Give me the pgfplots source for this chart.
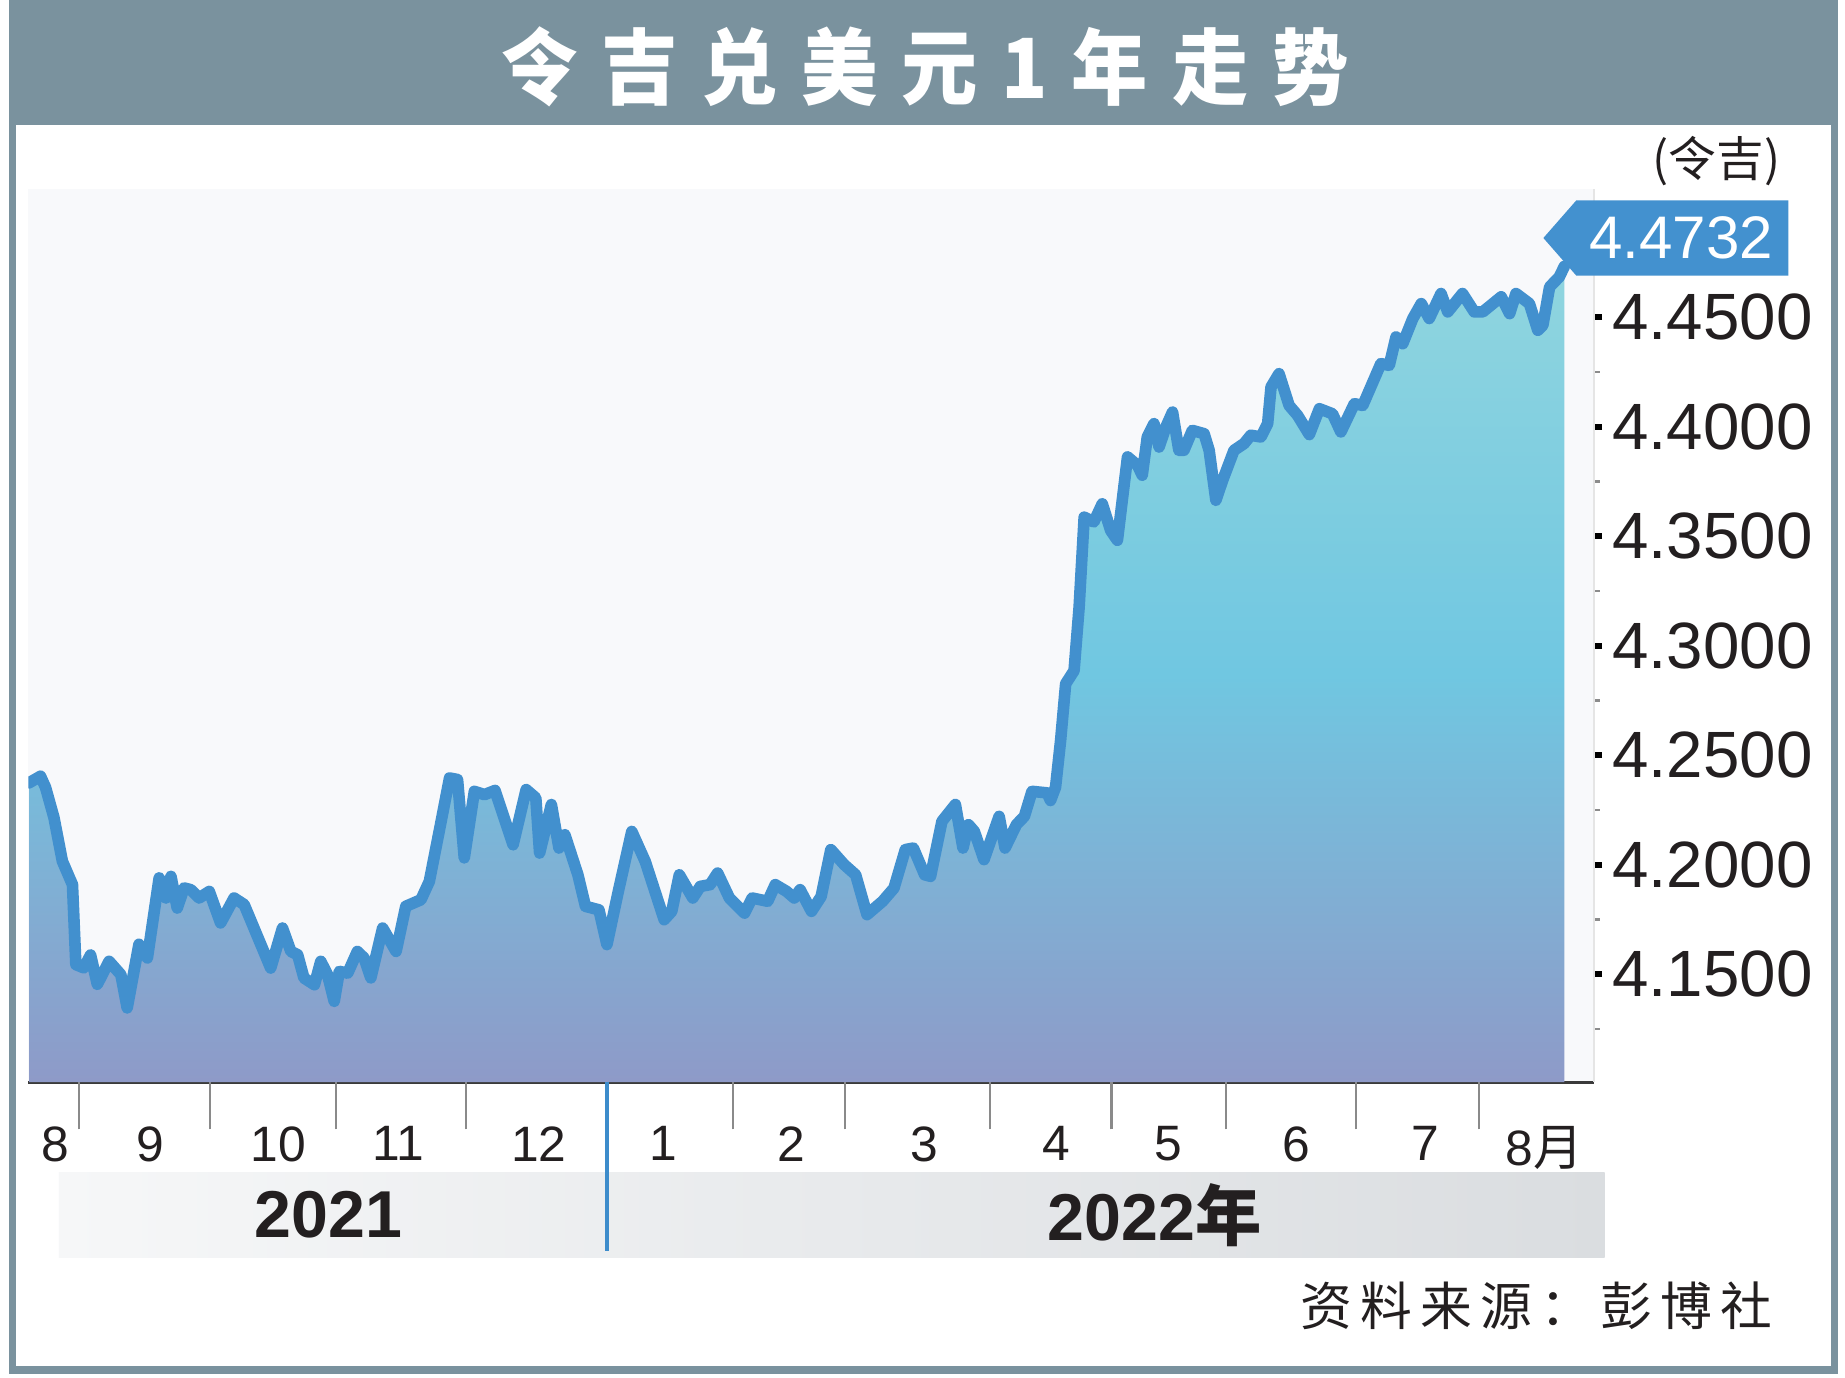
\documentclass[border=0pt]{standalone}
\usepackage{fontspec}
\setmainfont{Liberation Sans}
\newfontfamily\cjk{Noto Sans CJK SC}
\usepackage{pgfplots}
\usepackage{pgfplotstable}
\pgfplotsset{compat=1.18}

\definecolor{framegray}{HTML}{7A929E}
\definecolor{linecol}{HTML}{4290CE}
\definecolor{boxblue}{HTML}{4391CF}
\definecolor{plotbg}{HTML}{F8F9FB}
\definecolor{fillTop}{HTML}{90D5DF}
\definecolor{fillMid}{HTML}{70C7E1}
\definecolor{fillBot}{HTML}{8E9AC8}
\definecolor{axisdark}{HTML}{3A3A3A}
\definecolor{tickgray}{HTML}{8A8A8A}
\definecolor{textdark}{HTML}{231F20}
\definecolor{bandL}{HTML}{F6F7F8}
\definecolor{bandR}{HTML}{DADDE0}
\definecolor{sepblue}{HTML}{3D8CCB}

% MYR per USD, x = days from mid-August 2021
\pgfplotstableread{
x y
0.2 4.2374
2.9 4.2404
4.1 4.2353
6.1 4.2215
8.1 4.2016
10.5 4.1909
11.3 4.1544
13.2 4.1529
14.8 4.1588
16.4 4.1454
19.2 4.1559
22.0 4.1498
23.5 4.1346
26.3 4.1637
28.3 4.1574
31.1 4.1940
32.7 4.1848
33.9 4.1947
35.4 4.1802
37.0 4.1894
38.6 4.1886
40.6 4.1848
43.0 4.1878
45.7 4.1734
48.9 4.1848
51.3 4.1818
57.6 4.1528
60.4 4.1711
62.4 4.1604
64.0 4.1589
65.5 4.1483
68.0 4.1452
69.5 4.1559
71.1 4.1498
72.7 4.1376
73.9 4.1513
75.9 4.1505
78.2 4.1604
79.8 4.1574
81.4 4.1483
84.2 4.1711
87.4 4.1604
89.7 4.1810
93.3 4.1840
95.3 4.1924
98.1 4.2198
100.1 4.2396
102.0 4.2389
103.6 4.2031
106.0 4.2335
108.4 4.2320
110.9 4.2339
115.2 4.2091
118.3 4.2343
120.6 4.2305
121.5 4.2053
124.3 4.2275
126.1 4.2076
127.5 4.2137
130.6 4.1954
132.4 4.1810
135.6 4.1794
137.5 4.1635
140.2 4.1878
143.4 4.2152
146.6 4.2015
151.1 4.1749
152.9 4.1787
154.7 4.1954
157.9 4.1848
159.7 4.1901
162.0 4.1909
163.8 4.1962
166.6 4.1848
170.2 4.1779
172.0 4.1848
175.7 4.1833
177.5 4.1909
180.2 4.1878
182.0 4.1848
183.4 4.1886
186.1 4.1787
188.4 4.1855
190.7 4.2069
193.9 4.2000
196.6 4.1954
199.3 4.1772
203.0 4.1833
205.7 4.1893
208.4 4.2069
210.3 4.2076
213.0 4.1954
214.4 4.1947
217.1 4.2198
220.3 4.2275
222.1 4.2076
223.4 4.2183
224.8 4.2152
227.1 4.2023
230.7 4.2221
232.1 4.2076
234.8 4.2183
236.7 4.2221
238.5 4.2335
242.1 4.2328
242.9 4.2293
244.1 4.2354
245.3 4.2567
246.5 4.2826
248.5 4.2886
249.7 4.3176
250.9 4.3587
253.2 4.3565
255.2 4.3648
257.2 4.3526
258.8 4.3481
261.2 4.3862
263.6 4.3823
264.7 4.3778
265.9 4.3953
267.5 4.4014
268.7 4.3907
270.3 4.3998
271.9 4.4067
273.4 4.3892
274.6 4.3892
276.6 4.3983
279.4 4.3968
280.6 4.3892
282.2 4.3664
283.8 4.3755
286.5 4.3892
288.9 4.3923
290.5 4.3961
292.9 4.3953
294.5 4.4014
295.3 4.4181
297.2 4.4242
299.6 4.4097
301.6 4.4052
304.4 4.3964
306.8 4.4082
309.9 4.4059
311.9 4.3976
315.1 4.4105
317.1 4.4097
321.4 4.4288
323.4 4.4280
325.0 4.4410
326.6 4.4379
329.0 4.4494
331.0 4.4562
332.9 4.4494
335.7 4.4608
337.3 4.4524
340.8 4.4608
343.6 4.4524
345.6 4.4524
350.0 4.4593
352.0 4.4516
353.5 4.4608
356.7 4.4562
358.7 4.4440
359.9 4.4463
361.5 4.4638
363.8 4.4684
365.0 4.4732
}\ratedata

\begin{document}
\begin{tikzpicture}
% frame, title band
\begin{scope}[x=0.01cm,y=-0.01cm]
\useasboundingbox (0,0) rectangle (1566,1169);
\fill[white] (0,0) rectangle (1566,1169);
\fill[framegray] (8,0) rectangle (1560,1166);
\fill[white] (14,106) rectangle (1554,1159);
\node[white, inner sep=0pt] at (785,57) {\scalebox{0.92}[1]{\cjk\bfseries\fontsize{20pt}{20pt}\selectfont
  令\kern0.22cm 吉\kern0.22cm 兑\kern0.22cm 美\kern0.22cm 元\kern0.22cm 1\kern0.22cm 年\kern0.22cm 走\kern0.22cm 势}};
\node[text=textdark, inner sep=0pt] at (1457,137) {\cjk\fontsize{11.5pt}{12pt}\selectfont (令吉)};
% year band
\shade[left color=bandL, right color=bandR] (50,995) rectangle (1362,1067);
\end{scope}

\begin{axis}[
  at={(0.24cm,-9.18cm)}, anchor=south west,
  scale only axis, width=13.28cm, height=7.58cm,
  xmin=0, xmax=372, ymin=4.1007, ymax=4.5087,
  axis x line*=bottom, axis y line*=right,
  x axis line style={draw=axisdark, line width=0.8pt},
  y axis line style={draw=black!10, line width=0.6pt},
  axis background/.style={fill=plotbg},
  tick align=outside,
  xtick={6.4,29.1,59.4,88.0,121.3,151.0,181.2,212.9,244.3,270.9,301.4,331.9,360.2},
  xticklabels={8,9,10,11,12,1,2,3,4,5,6,7,8{\cjk 月}},
  x tick style={draw=none},
  x tick label style={font=\fontsize{12pt}{14pt}\selectfont, text=textdark, anchor=north, inner sep=0pt, yshift=-0.3cm},
  extra x ticks={12.0,43.1,73.1,103.9,167.5,194.1,228.6,257.4,284.6,315.4,344.8},
  extra x tick labels={},
  extra x tick style={major tick length=0.4cm, x tick style={draw=tickgray, line width=0.5pt}},
  ytick={4.15,4.20,4.25,4.30,4.35,4.40,4.45},
  yticklabels={4.1500,4.2000,4.2500,4.3000,4.3500,4.4000,4.4500},
  minor ytick={4.125,4.175,4.225,4.275,4.325,4.375,4.425},
  yticklabel pos=right,
  y tick label style={font=\fontsize{15.8pt}{17pt}\selectfont, text=textdark, anchor=west, inner sep=0pt, xshift=0.08cm},
  major tick length=0.07cm,
  minor tick length=0.05cm,
  major y tick style={draw=black, line width=1.4pt},
  minor y tick style={draw=black!45, line width=0.6pt},
]
% middle color must come after top/bottom color
\addplot[draw=none, top color=fillTop, bottom color=fillBot, middle color=fillMid]
  table {\ratedata} -- (axis cs:365.0,4.1007) -- (axis cs:0.2,4.1007) -- cycle;
\addplot[draw=linecol, line width=2.8pt, line join=round, line cap=round, mark=none]
  table {\ratedata};
\end{axis}

\begin{scope}[x=0.01cm,y=-0.01cm]
% year divider and year labels
\draw[sepblue, line width=0.03cm] (515,918) -- (515,1062);
\node[text=textdark, inner sep=0pt] at (279,1031) {\bfseries\fontsize{16pt}{17pt}\selectfont 2021};
\node[text=textdark, inner sep=0pt] at (980,1031) {\bfseries\fontsize{16pt}{17pt}\selectfont 2022{\cjk\bfseries 年}};
% latest value tag
\fill[boxblue] (1310,202) -- (1338,170) -- (1518,170) -- (1518,234) -- (1338,234) -- cycle;
\node[white, inner sep=0pt] at (1427,202) {\fontsize{14.5pt}{15pt}\selectfont 4.4732};
% source
\node[text=textdark, inner sep=0pt, anchor=east] at (1505,1108) {\cjk\fontsize{12.5pt}{13pt}\selectfont
  资\kern0.07cm 料\kern0.07cm 来\kern0.07cm 源\kern0.07cm ：\kern0.07cm 彭\kern0.07cm 博\kern0.07cm 社};
\end{scope}
\end{tikzpicture}
\end{document}
